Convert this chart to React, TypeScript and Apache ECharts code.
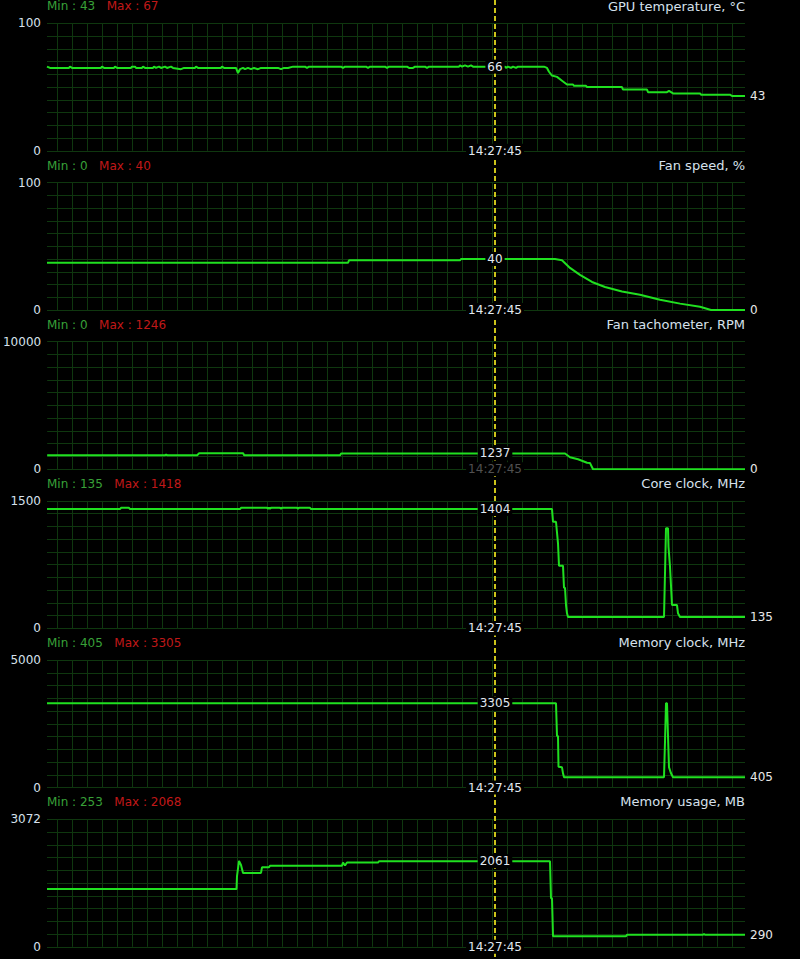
import { useEffect, useRef } from 'react';
import * as echarts from 'echarts';

// monitoring panels, top to bottom
const panelNames = [
  'GPU temperature, °C',
  'Fan speed, %',
  'Fan tachometer, RPM',
  'Core clock, MHz',
  'Memory clock, MHz',
  'Memory usage, MB',
];
const axisMax = [100, 100, 10000, 1500, 5000, 3072];
const minValues = [43, 0, 0, 135, 405, 253];
const maxValues = [67, 40, 1246, 1418, 3305, 2068];
const cursorValues = [66, 40, 1237, 1404, 3305, 2061];
const cursorSample = 448;
const cursorTime = '14:27:45';
const sampleCount = 698;

// [sample, value] readings
const gpuTemp: [number, number][] = [
  [0, 66], [3, 65], [22, 65], [23, 66], [25, 65], [54, 65], [55, 66], [57, 65], [67, 65], [68, 66],
  [70, 65], [84, 65], [85, 66], [88, 66], [89, 65], [95, 65], [96, 66], [98, 65], [106, 65], [107, 66],
  [109, 65], [112, 66], [114, 65], [118, 66], [120, 65], [124, 66], [126, 65], [134, 64], [137, 65],
  [148, 65], [149, 66], [151, 65], [174, 65], [175, 66], [177, 65], [189, 65], [191, 61], [193, 64],
  [196, 65], [198, 64], [201, 65], [204, 64], [207, 65], [211, 64], [214, 65], [231, 65], [234, 64],
  [237, 65], [241, 65], [246, 66], [258, 66], [260, 65], [262, 66], [294, 66], [296, 65], [298, 66],
  [319, 66], [321, 65], [323, 66], [338, 66], [340, 65], [342, 66], [360, 66], [362, 65], [366, 65],
  [368, 66], [378, 66], [380, 65], [382, 66], [412, 66], [413, 67], [415, 66], [418, 67], [421, 66],
  [424, 67], [426, 66], [458, 66], [459, 65], [461, 66], [464, 65], [466, 66], [469, 65], [471, 66],
  [497, 66], [500, 65], [502, 62], [505, 59], [510, 58], [515, 55], [520, 52], [526, 52], [527, 51],
  [539, 51], [540, 50], [575, 50], [576, 48], [600, 48], [601, 46], [620, 46], [622, 47], [624, 46],
  [626, 45], [653, 45], [654, 44], [683, 44], [685, 43], [698, 43],
];
const fanSpeed: [number, number][] = [
  [0, 37], [301, 37], [302, 39], [413, 39], [414, 40], [508, 40], [515, 39], [523, 33], [533, 27.5],
  [545, 22], [558, 18], [575, 14.5], [593, 12], [613, 8], [633, 5], [653, 2.5], [664, 0], [698, 0],
];
const fanTach: [number, number][] = [
  [0, 1100], [118, 1100], [119, 1150], [120, 1100], [150, 1100], [152, 1246], [196, 1246], [197, 1100],
  [293, 1100], [294, 1237], [518, 1237], [523, 933], [531, 776], [540, 510], [543, 480], [546, 0], [698, 0],
];
const coreClock: [number, number][] = [
  [0, 1404], [73, 1404], [74, 1418], [82, 1418], [83, 1404], [193, 1404], [194, 1418], [220, 1418],
  [221, 1410], [222, 1418], [223, 1410], [224, 1418], [233, 1418], [234, 1410], [235, 1418], [250, 1418],
  [251, 1410], [252, 1418], [263, 1418], [264, 1404], [505, 1404], [506, 1255], [509, 1255], [511, 1001],
  [512, 737], [516, 737], [517, 479], [518, 479], [519, 275], [520, 177], [521, 135], [617, 135],
  [618, 648], [619, 1177], [621, 1177], [621.5, 961], [623, 726], [625, 275], [630, 275], [631, 177],
  [633, 135], [698, 135],
];
const memClock: [number, number][] = [
  [0, 3305], [509, 3305], [510, 2022], [511, 2022], [511.5, 820], [515, 795], [516, 560], [517, 405],
  [617, 405], [618, 1800], [619, 3305], [620, 3305], [621, 2022], [622, 800], [624, 560], [626, 405],
  [698, 405],
];
const memUsage: [number, number][] = [
  [0, 1390], [189.5, 1390], [190, 1700], [192, 2068], [194, 1970], [196, 1780], [214, 1780], [215, 1915],
  [222, 1915], [223, 1955], [295, 1955], [296, 2030], [298, 1960], [300, 2030], [331, 2030], [332, 2061],
  [503, 2061], [504, 1170], [505, 1170], [506, 253], [579, 253], [580, 290], [656, 290], [657, 310],
  [658, 290], [698, 290],
];
const seriesData = [gpuTemp, fanSpeed, fanTach, coreClock, memClock, memUsage];

const FONT = 'DejaVu Sans';
const GRID_COLOR = '#0f370f';
const LINE_COLOR = '#20e020';
const TEXT_COLOR = '#d6e0ec';
const PANEL_H = 127.5;
const GRID_STEP = 15; // px between vertical grid lines
const panelTop = (i: number) => 23.3 + i * 159.2;

export default function App() {
  const chartRef = useRef<HTMLDivElement>(null);

  useEffect(() => {
    if (!chartRef.current) return;
    const chart = echarts.init(chartRef.current, undefined, { renderer: 'svg' });
    const n = panelNames.length;

    // grids 0..5 carry the data, grids 6..11 only draw the scrolling vertical lines
    // (they start one step left of the plot so the phase matches)
    const grid: any[] = [];
    panelNames.forEach((_, i) => grid.push({ left: 47, right: 55, top: panelTop(i), height: PANEL_H }));
    panelNames.forEach((_, i) =>
      grid.push({ left: 47 + 10 - GRID_STEP, right: 55, top: panelTop(i), height: PANEL_H }),
    );

    const xAxis: any[] = [];
    panelNames.forEach((_, i) => {
      xAxis.push({ type: 'value', gridIndex: i, min: 0, max: sampleCount, show: false });
    });
    panelNames.forEach((_, i) => {
      xAxis.push({
        type: 'value',
        gridIndex: n + i,
        min: 0,
        max: sampleCount + GRID_STEP - 10,
        interval: GRID_STEP,
        axisLine: { show: false },
        axisTick: { show: false },
        axisLabel: { show: false },
        splitLine: { show: true, showMinLine: false, showMaxLine: false, lineStyle: { color: GRID_COLOR, width: 1 } },
      });
    });

    const yAxis: any[] = panelNames.map((_, i) => ({
      type: 'value',
      gridIndex: i,
      min: 0,
      max: axisMax[i],
      interval: axisMax[i] / 10,
      axisLine: { show: false },
      axisTick: { show: false },
      axisLabel: {
        showMinLabel: true,
        showMaxLabel: true,
        margin: 6,
        color: TEXT_COLOR,
        fontFamily: FONT,
        fontSize: 12,
        formatter: (v: number) => {
          if (v === 0) return '0';
          if (Math.abs(v - axisMax[i]) < 1e-6) return String(axisMax[i]);
          return '';
        },
      },
      splitLine: { show: true, lineStyle: { color: GRID_COLOR, width: 1 } },
    }));
    panelNames.forEach((_, i) => {
      yAxis.push({ type: 'value', gridIndex: n + i, min: 0, max: 1, show: false, splitLine: { show: false } });
    });

    const title: any[] = [];
    panelNames.forEach((name, i) => {
      title.push({
        left: 47,
        top: Math.max(0, panelTop(i) - 23),
        padding: 0,
        text: `{a|Min : ${minValues[i]}}   {b|Max : ${maxValues[i]}}`,
        textStyle: {
          fontSize: 12,
          fontFamily: FONT,
          fontWeight: 'normal',
          rich: {
            a: { color: '#38a038', fontSize: 12, fontFamily: FONT },
            b: { color: '#c01818', fontSize: 12, fontFamily: FONT },
          },
        },
      });
      title.push({
        right: 55,
        top: Math.max(0, panelTop(i) - 24),
        padding: 0,
        text: name,
        textStyle: { color: TEXT_COLOR, fontSize: 13, fontFamily: FONT, fontWeight: 'normal' },
      });
    });

    const series = seriesData.map((data, i) => ({
      type: 'line',
      xAxisIndex: i,
      yAxisIndex: i,
      data,
      symbol: 'none',
      silent: true,
      lineStyle: { color: LINE_COLOR, width: 2 },
      itemStyle: { color: LINE_COLOR },
      endLabel: {
        show: true,
        distance: 5,
        color: '#e8e8e8',
        fontFamily: FONT,
        fontSize: 12,
        formatter: (p: any) => String(p.value[1]),
      },
      markPoint: {
        symbol: 'rect',
        symbolSize: 1,
        silent: true,
        itemStyle: { color: 'rgba(0,0,0,0)' },
        label: {
          show: true,
          position: 'inside',
          backgroundColor: '#000',
          padding: [1, 2],
          fontFamily: FONT,
          fontSize: 12,
          color: '#e0e8f0',
        },
        data: [
          { coord: [cursorSample, cursorValues[i]], label: { formatter: String(cursorValues[i]) } },
          { coord: [cursorSample, 0], label: { formatter: cursorTime, color: i === 2 ? '#505050' : '#e0e8f0' } },
        ],
      },
    }));

    chart.setOption({
      animation: false,
      backgroundColor: '#000',
      title,
      grid,
      xAxis,
      yAxis,
      series,
    } as any);

    // dashed cursor through every panel
    const cx = chart.convertToPixel({ xAxisIndex: 0 }, cursorSample) as number;
    chart.setOption({
      graphic: [
        {
          type: 'line',
          z: 1,
          silent: true,
          shape: { x1: cx, y1: 0, x2: cx, y2: 959 },
          style: { stroke: '#ccc41a', lineWidth: 2, lineDash: [5, 3] },
        },
      ],
    });

    return () => {
      chart.dispose();
    };
  }, []);

  return (
    <div
      ref={chartRef}
      style={{ position: 'absolute', left: 0, top: 0, width: '800px', height: '959px', background: '#000' }}
    />
  );
}
